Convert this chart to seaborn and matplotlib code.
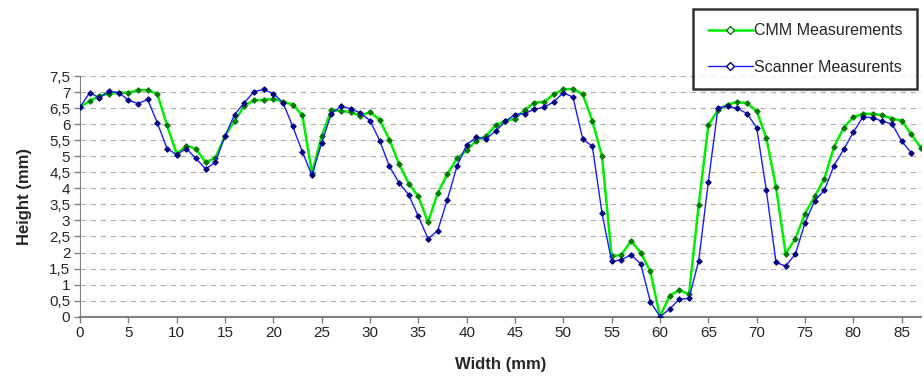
import numpy as np
import pandas as pd
import matplotlib
matplotlib.use('Agg')
import matplotlib.pyplot as plt
from matplotlib.lines import Line2D
from matplotlib.ticker import FuncFormatter, MultipleLocator
import seaborn as sns

# Height profiles (one point per mm)
cmm_height = [6.53, 6.72, 6.88, 6.95, 6.98, 6.98, 7.06, 7.06, 6.95, 5.97,
              5.07, 5.33, 5.23, 4.81, 4.95, 5.63, 6.11, 6.56, 6.75, 6.75,
              6.79, 6.70, 6.61, 6.28, 4.48, 5.63, 6.44, 6.41, 6.38, 6.25,
              6.38, 6.13, 5.52, 4.76, 4.15, 3.75, 2.94, 3.85, 4.44, 4.93,
              5.18, 5.49, 5.63, 5.96, 6.10, 6.17, 6.44, 6.67, 6.69, 6.93,
              7.08, 7.10, 6.93, 6.11, 5.00, 1.88, 1.93, 2.36, 2.00, 1.41,
              0.00, 0.66, 0.83, 0.70, 3.47, 5.96, 6.44, 6.61, 6.69, 6.65,
              6.41, 5.57, 4.04, 1.96, 2.43, 3.21, 3.75, 4.29, 5.29, 5.89,
              6.22, 6.32, 6.32, 6.28, 6.17, 6.11, 5.68, 5.26]
scanner_height = [6.53, 6.98, 6.82, 7.03, 6.98, 6.75, 6.64, 6.77, 6.04, 5.24,
                  5.05, 5.24, 4.93, 4.60, 4.81, 5.63, 6.30, 6.67, 7.01, 7.08,
                  6.95, 6.67, 5.93, 5.14, 4.40, 5.42, 6.32, 6.56, 6.48, 6.35,
                  6.11, 5.49, 4.69, 4.17, 3.80, 3.13, 2.43, 2.68, 3.65, 4.69,
                  5.36, 5.59, 5.55, 5.78, 6.09, 6.30, 6.33, 6.46, 6.53, 6.69,
                  6.98, 6.84, 5.54, 5.31, 3.23, 1.72, 1.77, 1.93, 1.65, 0.47,
                  0.00, 0.24, 0.54, 0.57, 1.74, 4.19, 6.51, 6.56, 6.49, 6.33,
                  5.89, 3.94, 1.69, 1.58, 1.95, 2.92, 3.61, 3.94, 4.71, 5.21,
                  5.75, 6.23, 6.20, 6.09, 6.01, 5.47, 5.10]
cmm_width = list(range(len(cmm_height)))
scanner_width = list(range(len(scanner_height)))

sns.set_style('white')
plt.rcParams['font.family'] = ['Liberation Sans', 'DejaVu Sans']

fig = plt.figure(figsize=(9.24, 3.79), dpi=100)
ax = fig.add_axes([80 / 924, 1 - 316.7 / 379, 841 / 924, 240.7 / 379])

df_cmm = pd.DataFrame({'Width': cmm_width, 'Height': cmm_height})
df_scan = pd.DataFrame({'Width': scanner_width, 'Height': scanner_height})

sns.lineplot(data=df_cmm, x='Width', y='Height', ax=ax, color='#00ee00',
             linewidth=1.8, marker='D', markersize=2.8,
             markerfacecolor='#007a00', markeredgecolor='#007a00', zorder=3)
sns.lineplot(data=df_scan, x='Width', y='Height', ax=ax, color='#1a1aff',
             linewidth=1.0, marker='D', markersize=2.8,
             markerfacecolor='#000080', markeredgecolor='#000080', zorder=4)

ax.set_xlim(0, 87)
ax.set_ylim(0, 7.5)
ax.xaxis.set_major_locator(MultipleLocator(5))
ax.yaxis.set_major_locator(MultipleLocator(0.5))
ax.yaxis.set_major_formatter(FuncFormatter(lambda v, p: ('%g' % v).replace('.', ',')))
ax.grid(axis='y', color='#b0b0b0', linestyle=(0, (5, 4)), linewidth=0.8)
ax.set_axisbelow(True)

for s in ['top', 'right']:
    ax.spines[s].set_visible(False)
ax.spines['left'].set_color('#808080')
ax.spines['bottom'].set_color('#808080')
ax.spines['bottom'].set_linewidth(1.5)
ax.tick_params(axis='both', direction='out', length=4, width=1, color='#808080',
               labelsize=11, pad=3, left=True, bottom=True)

ax.set_xlabel('Width (mm)', fontsize=12, fontweight='bold', labelpad=12)
ax.set_ylabel('Height (mm)', fontsize=12, fontweight='bold', labelpad=12)

handles = [
    Line2D([], [], color='#00ee00', linewidth=1.8, marker='D', markersize=4,
           markerfacecolor='white', markeredgecolor='#007a00'),
    Line2D([], [], color='#1a1aff', linewidth=1.0, marker='D', markersize=4,
           markerfacecolor='white', markeredgecolor='#000080'),
]
leg = fig.legend(handles, ['CMM Measurements', 'Scanner Measurents'],
                 loc='upper right', bbox_to_anchor=(917 / 924, 1 - 9 / 379),
                 fontsize=11.5, frameon=True, fancybox=False, handlelength=2.8,
                 labelspacing=1.35, borderpad=0.9, handletextpad=0.1, borderaxespad=0)
leg.get_frame().set_edgecolor('black')
leg.get_frame().set_linewidth(1.8)

fig.savefig('out.png', dpi=100)
